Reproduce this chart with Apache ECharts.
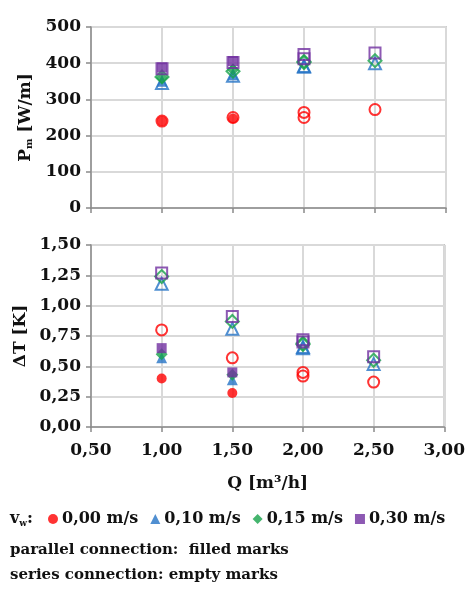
<!DOCTYPE html>
<html><head><meta charset="utf-8">
<script src="https://cdn.jsdelivr.net/npm/echarts@6/dist/echarts.min.js"></script>
<style>html,body{margin:0;padding:0;background:#fff}#c{width:468px;height:590px}</style>
</head><body><div id="c"></div>
<script>
// Flow rate Q [m3/h]
const qParallel = [1.0, 1.5];
const qSeries = [1.0, 1.5, 2.0, 2.0, 2.5];
const xTicks = [0.5, 1.0, 1.5, 2.0, 2.5, 3.0];
const speedLabels = ['0,00 m/s', '0,10 m/s', '0,15 m/s', '0,30 m/s'];

// Pm [W/m] - parallel connection (filled marks)
const pmPar000 = [240, 247];
const pmPar010 = [350, 368];
const pmPar015 = [360, 382];
const pmPar030 = [388, 406];
// Pm [W/m] - series connection (empty marks)
const pmSer000 = [240, 250, 264, 250, 272];
const pmSer010 = [345, 365, 390, 392, 400];
const pmSer015 = [362, 378, 402, 405, 407];
const pmSer030 = [385, 402, 424, 412, 428];

// dT [K] - parallel connection (filled marks)
const dtPar000 = [0.40, 0.28];
const dtPar010 = [0.57, 0.39];
const dtPar015 = [0.60, 0.43];
const dtPar030 = [0.65, 0.45];
// dT [K] - series connection (empty marks)
const dtSer000 = [0.80, 0.57, 0.45, 0.42, 0.37];
const dtSer010 = [1.18, 0.81, 0.65, 0.66, 0.52];
const dtSer015 = [1.24, 0.87, 0.68, 0.69, 0.55];
const dtSer030 = [1.27, 0.91, 0.72, 0.70, 0.58];

const colors = ['#ff0000', '#2473c6', '#16a34a', '#7030a0'];
const symbols = ['circle', 'triangle', 'diamond', 'rect'];
const sizes = [10, 11, 12, 10];

const FONT = 'DejaVu Serif';
const pair = (xs, ys) => xs.map((x, i) => [x, ys[i]]);
const comma = (d) => (v) => v.toFixed(d).replace('.', ',');

const parTop = [pmPar000, pmPar010, pmPar015, pmPar030];
const serTop = [pmSer000, pmSer010, pmSer015, pmSer030];
const parBot = [dtPar000, dtPar010, dtPar015, dtPar030];
const serBot = [dtSer000, dtSer010, dtSer015, dtSer030];

const series = [];
for (let g = 0; g < 2; g++) {
  const par = g === 0 ? parTop : parBot;
  const ser = g === 0 ? serTop : serBot;
  for (let k = 0; k < 4; k++) {
    series.push({
      type: 'scatter', name: speedLabels[k] + ' s', xAxisIndex: g, yAxisIndex: g,
      symbol: symbols[k], symbolSize: sizes[k] + 1,
      itemStyle: { color: 'rgba(0,0,0,0)', borderColor: colors[k], borderWidth: 2 },
      data: pair(qSeries, ser[k]), z: 2 + k
    });
    series.push({
      type: 'scatter', name: speedLabels[k], xAxisIndex: g, yAxisIndex: g,
      symbol: symbols[k], symbolSize: sizes[k],
      itemStyle: { color: colors[k] },
      data: pair(qParallel, par[k]), z: 2 + k
    });
  }
}

const axisCommon = {
  axisLine: { lineStyle: { color: '#8a8a8a', width: 1.5 } },
  axisTick: { show: true, length: 5, lineStyle: { color: '#8a8a8a', width: 1.5 } },
  splitLine: { lineStyle: { color: '#d9d9d9', width: 2 } }
};
const labelStyle = { fontFamily: FONT, fontWeight: 'bold', fontSize: 17, color: '#111' };

const chart = echarts.init(document.getElementById('c'), null, { renderer: 'canvas' });
chart.setOption({
  animation: false,
  backgroundColor: '#fff',
  grid: [
    { left: 91, right: 22, top: 27, height: 181, show: true, borderColor: '#a6a6a6', borderWidth: 1.5 },
    { left: 91, right: 22, top: 245, height: 182, show: true, borderColor: '#a6a6a6', borderWidth: 1.5 }
  ],
  xAxis: [
    Object.assign({ type: 'value', gridIndex: 0, min: xTicks[0], max: xTicks[xTicks.length - 1], interval: 0.5,
      axisLabel: { show: false } }, axisCommon),
    Object.assign({ type: 'value', gridIndex: 1, min: xTicks[0], max: xTicks[xTicks.length - 1], interval: 0.5,
      axisLabel: Object.assign({ formatter: comma(2), margin: 15 }, labelStyle),
      name: 'Q [m³/h]', nameLocation: 'middle', nameGap: 48,
      nameTextStyle: Object.assign({}, labelStyle) }, axisCommon)
  ],
  yAxis: [
    Object.assign({ type: 'value', gridIndex: 0, min: 0, max: 500, interval: 100,
      axisLabel: Object.assign({ margin: 10 }, labelStyle),
      name: 'P{sub|m} [W/m]', nameLocation: 'middle', nameRotate: 90, nameGap: 54,
      nameTextStyle: Object.assign({ rich: { sub: { fontFamily: FONT, fontWeight: 'bold', fontSize: 10, color: '#111', verticalAlign: 'bottom', padding: [8, 0, 0, 0] } } }, labelStyle)
    }, axisCommon),
    Object.assign({ type: 'value', gridIndex: 1, min: 0, max: 1.5, interval: 0.25,
      axisLabel: Object.assign({ formatter: comma(2), margin: 10 }, labelStyle),
      name: 'ΔT [K]', nameLocation: 'middle', nameRotate: 90, nameGap: 58,
      nameTextStyle: Object.assign({}, labelStyle)
    }, axisCommon)
  ],
  legend: {
    left: 48, top: 511, padding: 0, width: 420, itemWidth: 10, itemHeight: 10, itemGap: 12,
    data: speedLabels.map((n, k) => ({ name: n, icon: symbols[k] })),
    textStyle: Object.assign({}, labelStyle, { fontSize: 16, padding: [0, 0, 0, -1] }),
    selectedMode: false
  },
  graphic: [
    { type: 'text', left: 10, top: 511, style: { text: 'v{sub|w}:', fontFamily: FONT, fontWeight: 'bold', fontSize: 16, fill: '#111',
        rich: { sub: { fontFamily: FONT, fontWeight: 'bold', fontSize: 9, fill: '#111', padding: [10, 0, 0, 0] } } } },
    { type: 'text', left: 10, top: 543, style: { text: 'parallel connection:  filled marks', fontFamily: FONT, fontWeight: 'bold', fontSize: 15, fill: '#111' } },
    { type: 'text', left: 10, top: 568, style: { text: 'series connection: empty marks', fontFamily: FONT, fontWeight: 'bold', fontSize: 15, fill: '#111' } }
  ],
  series: series
});
</script></body></html>
